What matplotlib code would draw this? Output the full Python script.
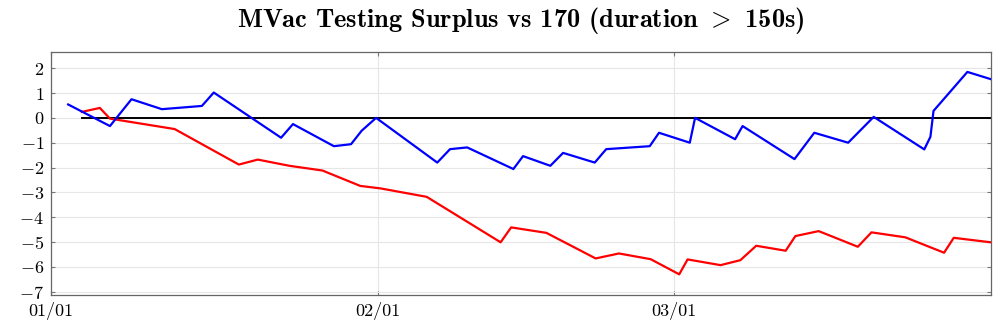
import matplotlib
matplotlib.use('Agg')
import matplotlib.pyplot as plt
import matplotlib.dates as mdates
import pandas as pd

# surplus series (two test setups), timestamps with hour resolution
blue_dates = ['2023-01-02 15:00', '2023-01-06 14:00', '2023-01-08 15:00', '2023-01-11 12:00',
              '2023-01-15 07:00', '2023-01-16 10:00', '2023-01-22 19:00', '2023-01-23 22:00',
              '2023-01-27 19:00', '2023-01-28 00:00', '2023-01-29 10:00', '2023-01-30 10:00',
              '2023-01-31 19:00', '2023-02-06 14:00', '2023-02-07 19:00', '2023-02-09 10:00',
              '2023-02-13 19:00', '2023-02-14 17:00', '2023-02-17 07:00', '2023-02-18 12:00',
              '2023-02-21 12:00', '2023-02-22 14:00', '2023-02-26 17:00', '2023-02-27 14:00',
              '2023-03-02 12:00', '2023-03-03 00:00', '2023-03-06 19:00', '2023-03-07 12:00',
              '2023-03-12 10:00', '2023-03-14 07:00', '2023-03-17 12:00', '2023-03-19 22:00',
              '2023-03-24 17:00', '2023-03-25 07:00', '2023-03-25 14:00', '2023-03-28 19:00',
              '2023-03-31 00:00']
blue_vals = [0.54, -0.33, 0.75, 0.35,
             0.48, 1.02, -0.80, -0.25,
             -1.14, -1.13, -1.06, -0.52,
             0.0, -1.80, -1.26, -1.19,
             -2.06, -1.54, -1.93, -1.41,
             -1.80, -1.26, -1.14, -0.60,
             -1.00, 0.0, -0.86, -0.33,
             -1.66, -0.60, -1.00, 0.04,
             -1.27, -0.76, 0.28, 1.85,
             1.56]

red_dates = ['2023-01-03 22:00', '2023-01-05 15:00', '2023-01-06 14:00', '2023-01-12 17:00',
             '2023-01-18 19:00', '2023-01-20 14:00', '2023-01-23 14:00', '2023-01-26 17:00',
             '2023-01-30 07:00', '2023-02-01 05:00', '2023-02-05 14:00', '2023-02-12 14:00',
             '2023-02-13 14:00', '2023-02-16 22:00', '2023-02-21 14:00', '2023-02-23 19:00',
             '2023-02-26 19:00', '2023-03-01 12:00', '2023-03-02 07:00', '2023-03-05 10:00',
             '2023-03-07 07:00', '2023-03-08 19:00', '2023-03-11 14:00', '2023-03-12 12:00',
             '2023-03-14 17:00', '2023-03-18 10:00', '2023-03-19 17:00', '2023-03-22 22:00',
             '2023-03-26 14:00', '2023-03-27 12:00', '2023-03-31 00:00']
red_vals = [0.24, 0.40, -0.03, -0.45,
            -1.88, -1.68, -1.93, -2.12,
            -2.74, -2.84, -3.18, -5.01,
            -4.41, -4.63, -5.66, -5.46,
            -5.69, -6.30, -5.70, -5.93,
            -5.73, -5.15, -5.35, -4.76,
            -4.56, -5.19, -4.61, -4.81,
            -5.43, -4.83, -5.01]

zero_line = ['2023-01-03 22:00', '2023-03-31 00:00']
y_ticks = [-7, -6, -5, -4, -3, -2, -1, 0, 1, 2]
x_ticks = ['2023-01-01', '2023-02-01', '2023-03-01']

plt.rcParams['font.family'] = 'cmr10'
plt.rcParams['mathtext.fontset'] = 'cm'
plt.rcParams['axes.formatter.use_mathtext'] = True

fig = plt.figure(figsize=(10, 3.3), dpi=100)
ax = fig.add_axes([0.051, 0.107, 0.9397, 0.736])

bd = pd.to_datetime(blue_dates)
rd = pd.to_datetime(red_dates)
zd = pd.to_datetime(zero_line)

ax.plot(zd, [0, 0], color='black', lw=1.4, zorder=2)
ax.plot(rd, red_vals, color='red', lw=1.6, zorder=3)
ax.plot(bd, blue_vals, color='blue', lw=1.6, zorder=4)

ax.set_xlim(pd.Timestamp('2023-01-01'), pd.Timestamp('2023-03-31'))
ax.set_ylim(-7.12, 2.66)

ax.set_yticks(y_ticks)
ax.set_yticklabels([f'${v}$' if v >= 0 else f'$-{abs(v)}$' for v in y_ticks])
ax.set_xticks(pd.to_datetime(x_ticks))
ax.xaxis.set_major_formatter(mdates.DateFormatter('%m/%d'))

ax.grid(True, color='#e6e6e6', lw=0.8, zorder=0)
ax.tick_params(direction='in', length=3, color='#777777', labelsize=13,
               top=True, right=True, pad=5)
for s in ax.spines.values():
    s.set_color('#666666')
    s.set_linewidth(0.9)

ax.set_title(r'MVac Testing Surplus vs 170 (duration $>$ 150s)',
             fontfamily='cmb10', fontsize=19, pad=18)

fig.savefig('out.png', dpi=100)
